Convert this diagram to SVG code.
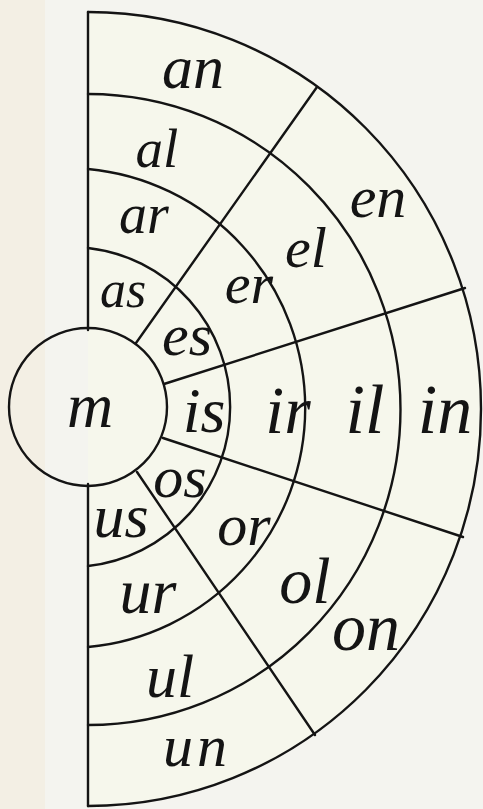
<svg xmlns="http://www.w3.org/2000/svg" width="483" height="809" viewBox="0 0 483 809">
<style>
.ln{fill:none;stroke:#141414;stroke-width:2.4;stroke-linecap:round}
.lb{font-family:"Liberation Serif","DejaVu Serif",serif;font-style:italic;fill:#141414;text-anchor:middle}
</style>
<rect x="0" y="0" width="483" height="809" fill="#f4f4ef"/>
<rect x="0" y="0" width="45" height="809" fill="#f3efe4"/>
<path d="M88 12 A393 397 0 0 1 88 806 Z" fill="#f6f7ec"/>
<g id="connectors">
<path class="ln" d="M88 12 A393 397 0 0 1 88 806"/>
<path class="ln" d="M88 94 A312 315 0 0 1 88 725"/>
<path class="ln" d="M88 169 A239 240 0 0 1 88 647"/>
<path class="ln" d="M88 248 A160 160 0 0 1 88 566"/>
<line class="ln" x1="88" y1="12" x2="88" y2="330"/>
<line class="ln" x1="88" y1="484" x2="88" y2="806"/>
<line class="ln" x1="136" y1="343" x2="317" y2="87"/>
<line class="ln" x1="164" y1="384" x2="465" y2="288"/>
<line class="ln" x1="163" y1="438" x2="463" y2="537"/>
<line class="ln" x1="137" y1="472" x2="315" y2="735"/>
</g>
<g id="center"><circle class="ln" cx="88" cy="407" r="79" fill="#f5f5f0"/><text class="lb" x="90" y="427" font-size="64">m</text></g>
<g id="an"><text class="lb" x="193" y="88" font-size="62">an</text></g>
<g id="al"><text class="lb" x="157" y="167" font-size="55">al</text></g>
<g id="ar"><text class="lb" x="144" y="233" font-size="56">ar</text></g>
<g id="as"><text class="lb" x="123" y="307" font-size="52">as</text></g>
<g id="es"><text class="lb" x="187" y="355" font-size="60">es</text></g>
<g id="er"><text class="lb" x="249" y="303" font-size="58">er</text></g>
<g id="el"><text class="lb" x="306" y="267" font-size="58">el</text></g>
<g id="en"><text class="lb" x="378" y="217" font-size="60">en</text></g>
<g id="is"><text class="lb" x="204" y="432" font-size="64">is</text></g>
<g id="ir"><text class="lb" x="288" y="433" font-size="68">ir</text></g>
<g id="il"><text class="lb" x="365" y="433" font-size="70">il</text></g>
<g id="in"><text class="lb" x="445" y="433" font-size="70">in</text></g>
<g id="os"><text class="lb" x="180" y="497" font-size="60">os</text></g>
<g id="or"><text class="lb" x="244" y="545" font-size="60">or</text></g>
<g id="ol"><text class="lb" x="305" y="603" font-size="66">ol</text></g>
<g id="on"><text class="lb" x="366" y="650" font-size="68">on</text></g>
<g id="us"><text class="lb" x="121" y="537" font-size="62">us</text></g>
<g id="ur"><text class="lb" x="148" y="613" font-size="64">ur</text></g>
<g id="ul"><text class="lb" x="170" y="697" font-size="62">ul</text></g>
<g id="un"><text class="lb" x="197" y="766" font-size="60" letter-spacing="4">un</text></g>
</svg>
